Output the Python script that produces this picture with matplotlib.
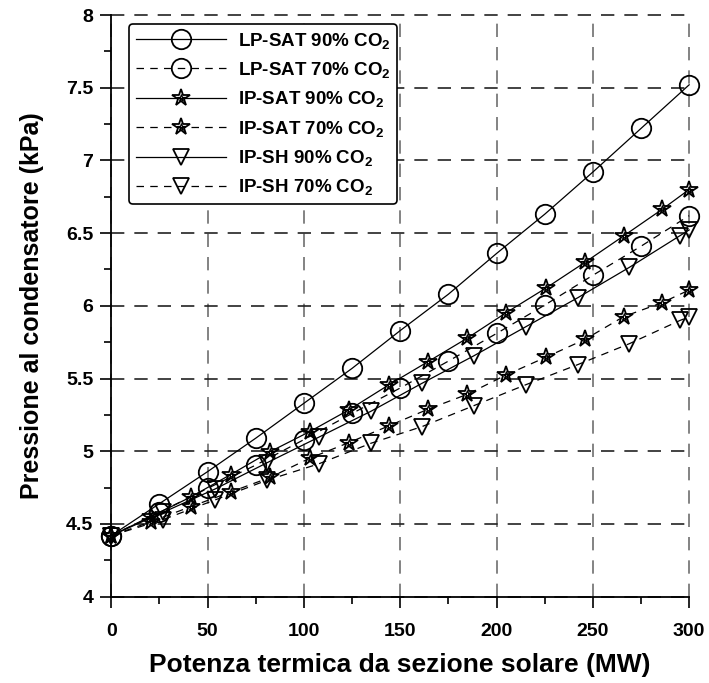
import matplotlib
matplotlib.use("Agg")
import matplotlib.pyplot as plt
from matplotlib.ticker import MultipleLocator, FormatStrFormatter

plt.rcParams['font.family'] = ['Liberation Sans', 'DejaVu Sans']
plt.rcParams['font.weight'] = 'bold'
plt.rcParams['mathtext.fontset'] = 'custom'
plt.rcParams['mathtext.rm'] = 'Liberation Sans:bold'
plt.rcParams['mathtext.default'] = 'rm'

# Solar thermal power (MW) and condenser pressure (kPa)
lp_x = [0, 25, 50, 75, 100, 125, 150, 175, 200, 225, 250, 275, 300]
lp90 = [4.42, 4.64, 4.86, 5.09, 5.33, 5.57, 5.83, 6.08, 6.36, 6.63, 6.92, 7.22, 7.52]
lp70 = [4.42, 4.58, 4.745, 4.905, 5.08, 5.26, 5.435, 5.62, 5.81, 6.005, 6.21, 6.41, 6.62]

ip_x = [0, 20.5, 41.2, 62.0, 82.4, 103.0, 123.4, 144.0, 164.4, 184.7, 205.0,
        225.5, 246.0, 266.0, 286.0, 300]
ip90 = [4.42, 4.55, 4.685, 4.84, 4.997, 5.135, 5.285, 5.456, 5.616, 5.777, 5.953,
        6.121, 6.30, 6.481, 6.664, 6.80]
ip70 = [4.42, 4.515, 4.619, 4.72, 4.82, 4.952, 5.06, 5.174, 5.289, 5.391, 5.525,
        5.646, 5.77, 5.926, 6.022, 6.109]

sh_x = [0, 26.9, 53.8, 80.7, 107.6, 134.8, 161.4, 188.3, 215.3, 242.2, 269.0, 295.3, 300]
sh90 = [4.42, 4.58, 4.74, 4.92, 5.096, 5.275, 5.468, 5.657, 5.857, 6.056, 6.265, 6.483, 6.522]
sh70 = [4.42, 4.53, 4.665, 4.80, 4.913, 5.055, 5.17, 5.314, 5.458, 5.596, 5.74, 5.90, 5.924]

labels = ['LP-SAT 90% CO$_2$', 'LP-SAT 70% CO$_2$',
          'IP-SAT 90% CO$_2$', 'IP-SAT 70% CO$_2$',
          'IP-SH 90% CO$_2$', 'IP-SH 70% CO$_2$']

fig = plt.figure(figsize=(7.09, 6.83), dpi=100)
ax = fig.add_axes([0.157, 0.1264, 0.815, 0.8516])

solid = dict(color='black', lw=0.9, linestyle='-')
dashed = dict(color='black', lw=0.9, linestyle=(0, (6, 5)))

circ = dict(marker='o', ms=14, mfc='none', mec='black', mew=1.3)
star = dict(marker='*', ms=13, mfc='none', mec='black', mew=1.3)
star_in = dict(marker='*', ms=5.5, mfc='none', mec='black', mew=0.9, linestyle='none')
tri = dict(marker='v', ms=12, mfc='none', mec='black', mew=1.3)

h1, = ax.plot(lp_x, lp90, **solid, **circ, clip_on=False, zorder=4)
h2, = ax.plot(lp_x, lp70, **dashed, **circ, clip_on=False, zorder=4)
h3, = ax.plot(ip_x, ip90, **solid, **star, clip_on=False, zorder=4)
h3i, = ax.plot(ip_x, ip90, **star_in, clip_on=False, zorder=4)
h4, = ax.plot(ip_x, ip70, **dashed, **star, clip_on=False, zorder=4)
h4i, = ax.plot(ip_x, ip70, **star_in, clip_on=False, zorder=4)
h5, = ax.plot(sh_x, sh90, **solid, **tri, clip_on=False, zorder=4)
h6, = ax.plot(sh_x, sh70, **dashed, **tri, clip_on=False, zorder=4)

ax.set_xlim(0, 300)
ax.set_ylim(4, 8)
ax.xaxis.set_major_locator(MultipleLocator(50))
ax.xaxis.set_minor_locator(MultipleLocator(25))
ax.yaxis.set_major_locator(MultipleLocator(0.5))
ax.yaxis.set_minor_locator(MultipleLocator(0.25))
ax.yaxis.set_major_formatter(FormatStrFormatter('%g'))

ax.tick_params(which='major', direction='out', length=8, width=1.2, labelsize=14)
ax.tick_params(axis='x', which='major', pad=11)
ax.tick_params(axis='y', which='major', pad=5)
ax.tick_params(which='minor', direction='out', length=5, width=1.2)
for lab in ax.get_xticklabels() + ax.get_yticklabels():
    lab.set_fontweight('bold')

for side in ('top', 'right'):
    ax.spines[side].set_visible(False)
for side in ('left', 'bottom'):
    ax.spines[side].set_linewidth(1.3)
    ax.spines[side].set_zorder(5)

ax.xaxis.grid(True, which='major', color='#6e6e6e', lw=1.2, linestyle=(0, (8, 6)))
ax.yaxis.grid(True, which='major', color='#222222', lw=1.2, linestyle=(0, (8, 6)))
for gl in ax.get_xgridlines() + ax.get_ygridlines():
    gl.set_clip_on(False)
ax.set_axisbelow(True)

ax.set_xlabel('Potenza termica da sezione solare (MW)', fontsize=19, fontweight='bold', labelpad=9)
ax.set_ylabel('Pressione al condensatore (kPa)', fontsize=18, fontweight='bold', labelpad=16)

leg = ax.legend([h1, h2, (h3, h3i), (h4, h4i), h5, h6], labels,
                loc='upper left', bbox_to_anchor=(0.0306, 0.9845), borderaxespad=0,
                numpoints=1, handlelength=4.85, handletextpad=0.6,
                labelspacing=0.5, borderpad=0.35, fontsize=13.5,
                fancybox=True, framealpha=1, edgecolor='black')
leg.get_frame().set_linewidth(1.2)
leg.set_zorder(6)
for t in leg.get_texts():
    t.set_fontweight('bold')

fig.savefig('out.png', dpi=100)
